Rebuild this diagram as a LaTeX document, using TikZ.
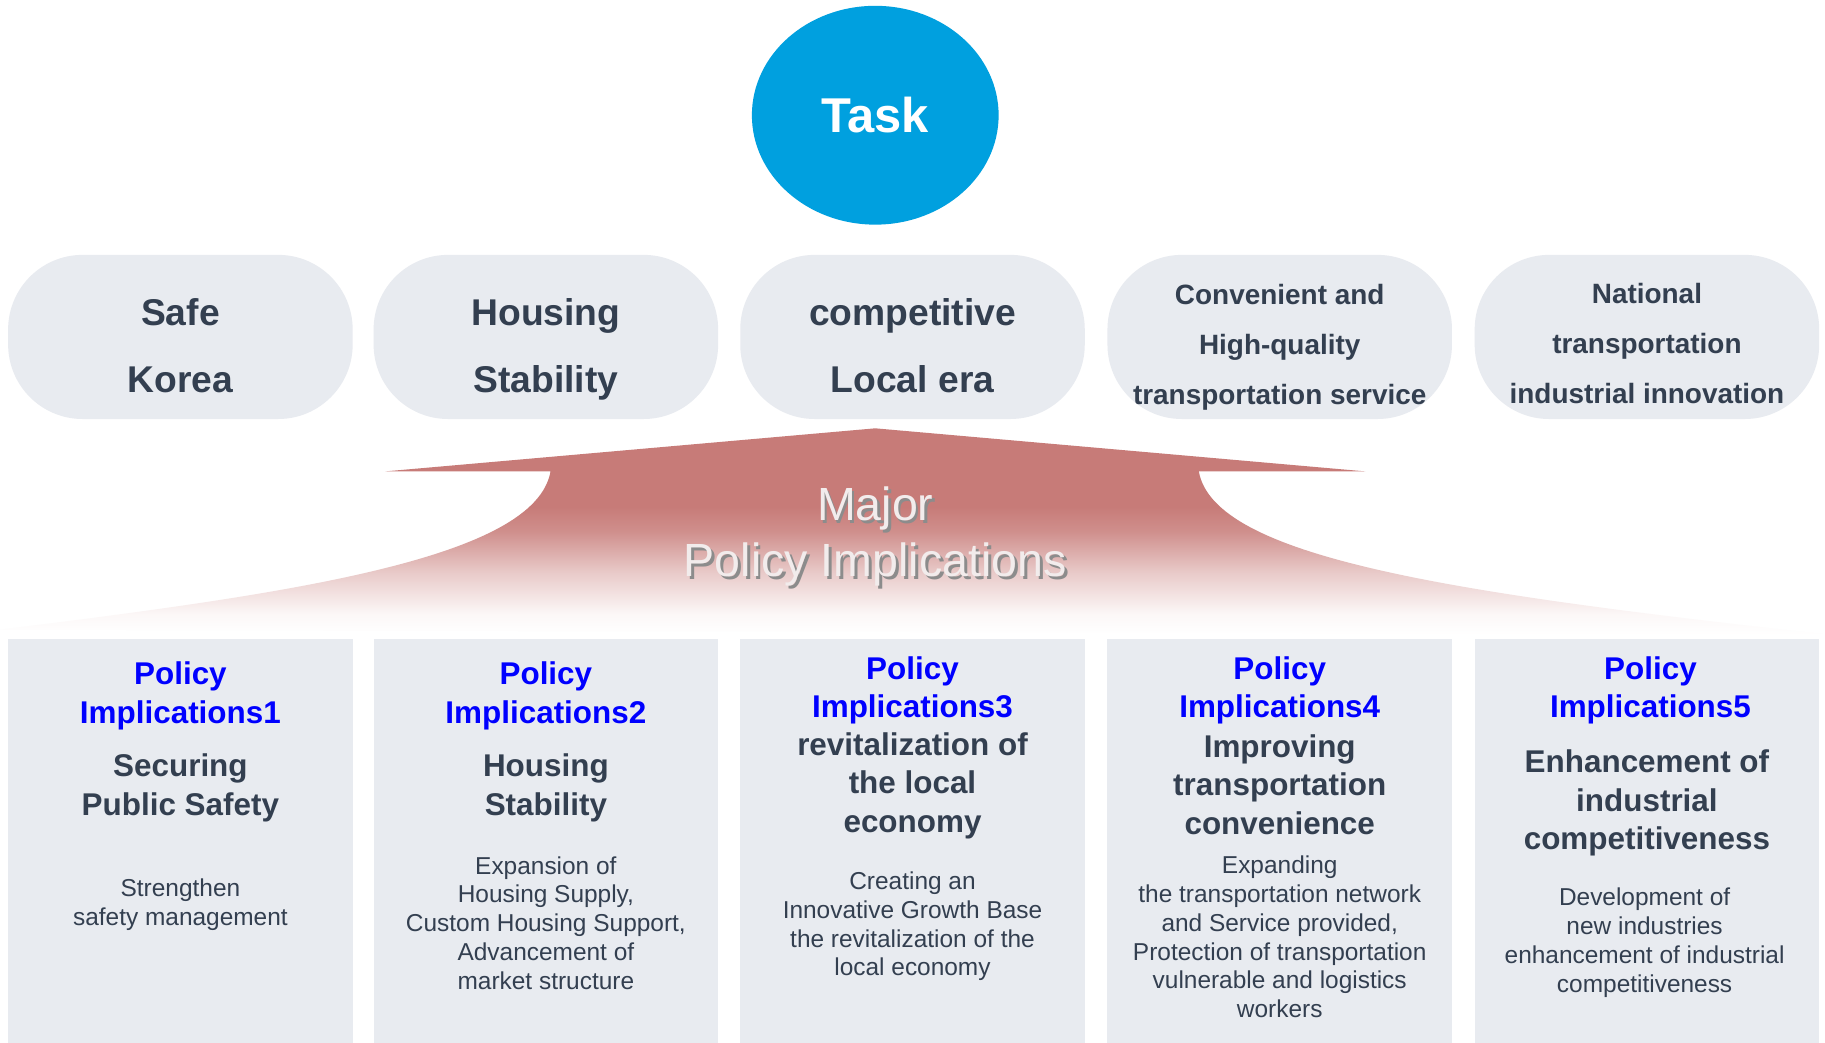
\documentclass[tikz,border=0pt]{standalone}
\usepackage{fontspec}
\setmainfont{Liberation Sans}
\usetikzlibrary{shapes.geometric}
\definecolor{taskblue}{RGB}{0,160,223}
\definecolor{pillgray}{RGB}{232,235,240}
\definecolor{navy}{RGB}{51,63,80}
\definecolor{polblue}{RGB}{0,0,255}
\definecolor{arrowc}{RGB}{199,123,120}
\definecolor{majorc}{RGB}{242,236,236}
\colorlet{afadeA}{arrowc!6!white}
\colorlet{afadeB}{arrowc!40!white}
\colorlet{afadeC}{arrowc!85!white}
\pgfdeclareverticalshading{arrowfade}{100bp}{color(0bp)=(white); color(25bp)=(white); color(30bp)=(afadeA); color(40bp)=(afadeB); color(50bp)=(afadeC); color(56bp)=(arrowc); color(100bp)=(arrowc)}
\begin{document}
\begin{tikzpicture}[x=1pt,y=-1pt,
  pill/.style={rounded corners=64pt, fill=pillgray, minimum width=296pt, minimum height=141pt, inner sep=0pt},
  polbox/.style={fill=pillgray, minimum width=296pt, minimum height=347pt, inner sep=0pt},
  pilltext/.style={align=center, text=navy, font=\bfseries\fontsize{32}{58}\selectfont},
  pillsmall/.style={align=center, text=navy, font=\bfseries\fontsize{24}{43}\selectfont},
  bluehead/.style={align=center, text=polblue, font=\bfseries\fontsize{27}{33}\selectfont},
  navyhead/.style={align=center, text=navy, font=\bfseries\fontsize{27}{33}\selectfont},
  bodytext/.style={align=center, text=navy, font=\fontsize{21}{24.7}\selectfont},
  majortext/.style={align=center, font=\fontsize{40}{48}\selectfont}]
\useasboundingbox (0,0) rectangle (1568,896);
\fill[white] (0,0) rectangle (1568,896);

% Task
\node[ellipse, fill=taskblue, minimum width=212pt, minimum height=188pt, inner sep=0pt,
      text=white, font=\bfseries\fontsize{42}{48}\selectfont] (task) at (752,99) {Task};

% top pills
\node[pill] (p1) at (155,289.5) {};
\node[pill] (p2) at (469,289.5) {};
\node[pill] (p3) at (784,289.5) {};
\node[pill] (p4) at (1099.5,289.5) {};
\node[pill] (p5) at (1415,289.5) {};
\node[pilltext] (p1t) at (155,297) {Safe\\Korea};
\node[pilltext] (p2t) at (469,300) {Housing\\Stability};
\node[pilltext] (p3t) at (784,297) {competitive\\Local era};
\node[pillsmall] (p4t) at (1099.5,298) {Convenient and\\High-quality\\transportation service};
\node[pillsmall] (p5t) at (1415,295) {National\\transportation\\industrial innovation};

% arrow
\path[shading=arrowfade] (752,368) -- (1173,405) -- (1030,405)
  .. controls (1043,480) and (1253,510) .. (1568,545) -- (0,541)
  .. controls (250,510) and (460,480) .. (473,405) -- (331,405) -- cycle;
\node[majortext, text=black!45] (majsh) at (754.5,463.5) {Major\\Policy Implications};
\node[majortext, text=majorc] (maj) at (752,461) {Major\\Policy Implications};

% bottom boxes
\node[polbox] (b1) at (155,722.5) {};
\node[polbox] (b2) at (469,722.5) {};
\node[polbox] (b3) at (784,722.5) {};
\node[polbox] (b4) at (1099.5,722.5) {};
\node[polbox] (b5) at (1415,722.5) {};

\node[bluehead] (b1a) at (155,598) {Policy\\Implications1};
\node[navyhead] (b1b) at (155,677) {Securing\\Public Safety};
\node[bodytext] (b1c) at (155,777) {Strengthen\\safety management};

\node[bluehead] (b2a) at (469,598) {Policy\\Implications2};
\node[navyhead] (b2b) at (469,677) {Housing\\Stability};
\node[bodytext] (b2c) at (469,793) {Expansion of\\Housing Supply,\\Custom Housing Support,\\Advancement of\\market structure};

\node[bluehead] (b3a) at (784,593) {Policy\\Implications3};
\node[navyhead] (b3b) at (784,675) {revitalization of\\the local\\economy};
\node[bodytext] (b3c) at (784,796) {Creating an\\Innovative Growth Base\\the revitalization of the\\local economy};

\node[bluehead] (b4a) at (1099.5,593) {Policy\\Implications4};
\node[navyhead] (b4b) at (1099.5,674) {Improving\\transportation\\convenience};
\node[bodytext] (b4c) at (1099.5,805) {Expanding\\the transportation network\\and Service provided,\\Protection of transportation\\vulnerable and logistics\\workers};

\node[bluehead] (b5a) at (1418,593) {Policy\\Implications5};
\node[navyhead] (b5b) at (1415,690) {Enhancement of\\industrial\\competitiveness};
\node[bodytext] (b5c) at (1413,810) {Development of\\new industries\\enhancement of industrial\\competitiveness};
\end{tikzpicture}
\end{document}
